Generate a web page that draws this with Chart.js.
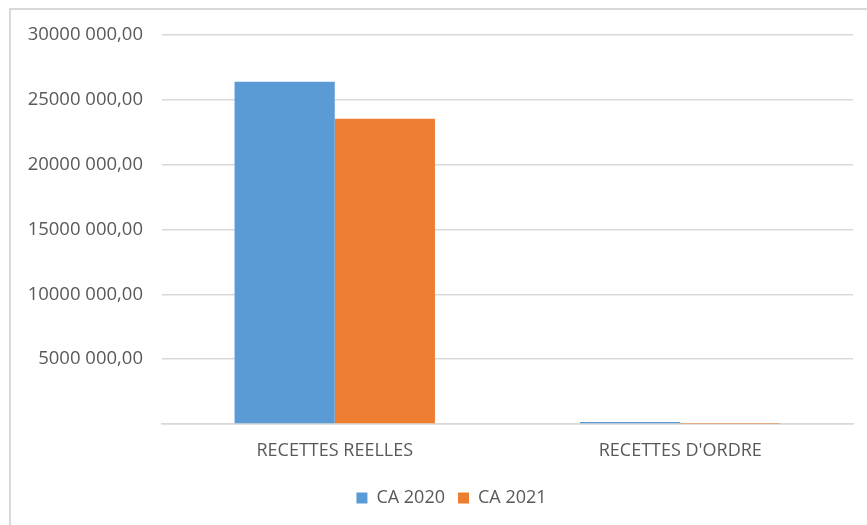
<!DOCTYPE html>
<html>
<head>
<meta charset="utf-8">
<script src="https://cdn.jsdelivr.net/npm/chart.js@4.4.1/dist/chart.umd.min.js"></script>
<style>
  html, body { margin: 0; padding: 0; background: #fff; }
  #wrap { position: relative; width: 867px; height: 525px; overflow: hidden; }
  #frame {
    position: absolute; left: 9px; top: 8px; width: 900px; height: 600px;
    border-top: 2px solid #d9d9d9; border-left: 2px solid #d9d9d9;
    box-sizing: border-box; pointer-events: none;
  }
  canvas { position: absolute; left: 0; top: 0; }
</style>
</head>
<body>
<div id="wrap">
  <canvas id="chart" width="867" height="525"></canvas>
  <div id="frame"></div>
</div>
<script>
const categories = ['RECETTES REELLES', "RECETTES D'ORDRE"]
const seriesNames = ['CA 2020', 'CA 2021']
const ca2020 = [26400000, 150000]
const ca2021 = [23550000, 10000]
const yTicks = [5000000, 10000000, 15000000, 20000000, 25000000, 30000000]

const colors = ['#5b9bd5', '#ed7d31']
const textColor = '#595959'
const gridColor = '#d9d9d9'
const fontFamily = "'Open Sans', 'Liberation Sans', sans-serif"

// "30000 000,00" style: the thousands block kept apart, two decimals
function formatAmount(v) {
    const head = Math.floor(v / 1000)
    const tail = String(v % 1000).padStart(3, '0')
    return head + ' ' + tail + ',00'
}

// legend sits a bit right of the canvas centre
const legendShift = {
    id: 'legendShift',
    afterLayout(chart) {
        chart.legend.left += 50
    }
}

new Chart(document.getElementById('chart'), {
    type: 'bar',
    data: {
        labels: categories,
        datasets: [
            { label: seriesNames[0], data: ca2020, backgroundColor: colors[0] },
            { label: seriesNames[1], data: ca2021, backgroundColor: colors[1] },
        ]
    },
    plugins: [legendShift],
    options: {
        responsive: false,
        animation: false,
        layout: { padding: { top: 35, right: 14, left: 0, bottom: 8 } },
        datasets: {
            bar: { barPercentage: 1, categoryPercentage: 0.58 }
        },
        plugins: {
            tooltip: { enabled: false },
            legend: {
                position: 'bottom',
                labels: {
                    color: textColor,
                    font: { family: fontFamily, size: 18 },
                    boxWidth: 11,
                    boxHeight: 11,
                    padding: 13,
                },
            },
        },
        scales: {
            x: {
                grid: { display: false, drawTicks: false },
                border: { display: true, color: gridColor, width: 1.5 },
                ticks: {
                    color: textColor,
                    font: { family: fontFamily, size: 18 },
                    padding: 16,
                },
                afterFit: (scale) => { scale.height = 52 },
            },
            y: {
                min: 0,
                max: yTicks[yTicks.length - 1],
                afterBuildTicks: (scale) => {
                    scale.ticks = [0].concat(yTicks).map((v) => ({ value: v }))
                },
                grid: { color: gridColor, lineWidth: 1.5, drawTicks: false },
                border: { display: false },
                ticks: {
                    color: textColor,
                    font: { family: fontFamily, size: 18.5 },
                    padding: 19,
                    callback: (v) => (v === 0 ? '' : formatAmount(v)),
                },
                afterFit: (scale) => { scale.width = 162 },
            },
        },
    },
})
</script>
</body>
</html>
